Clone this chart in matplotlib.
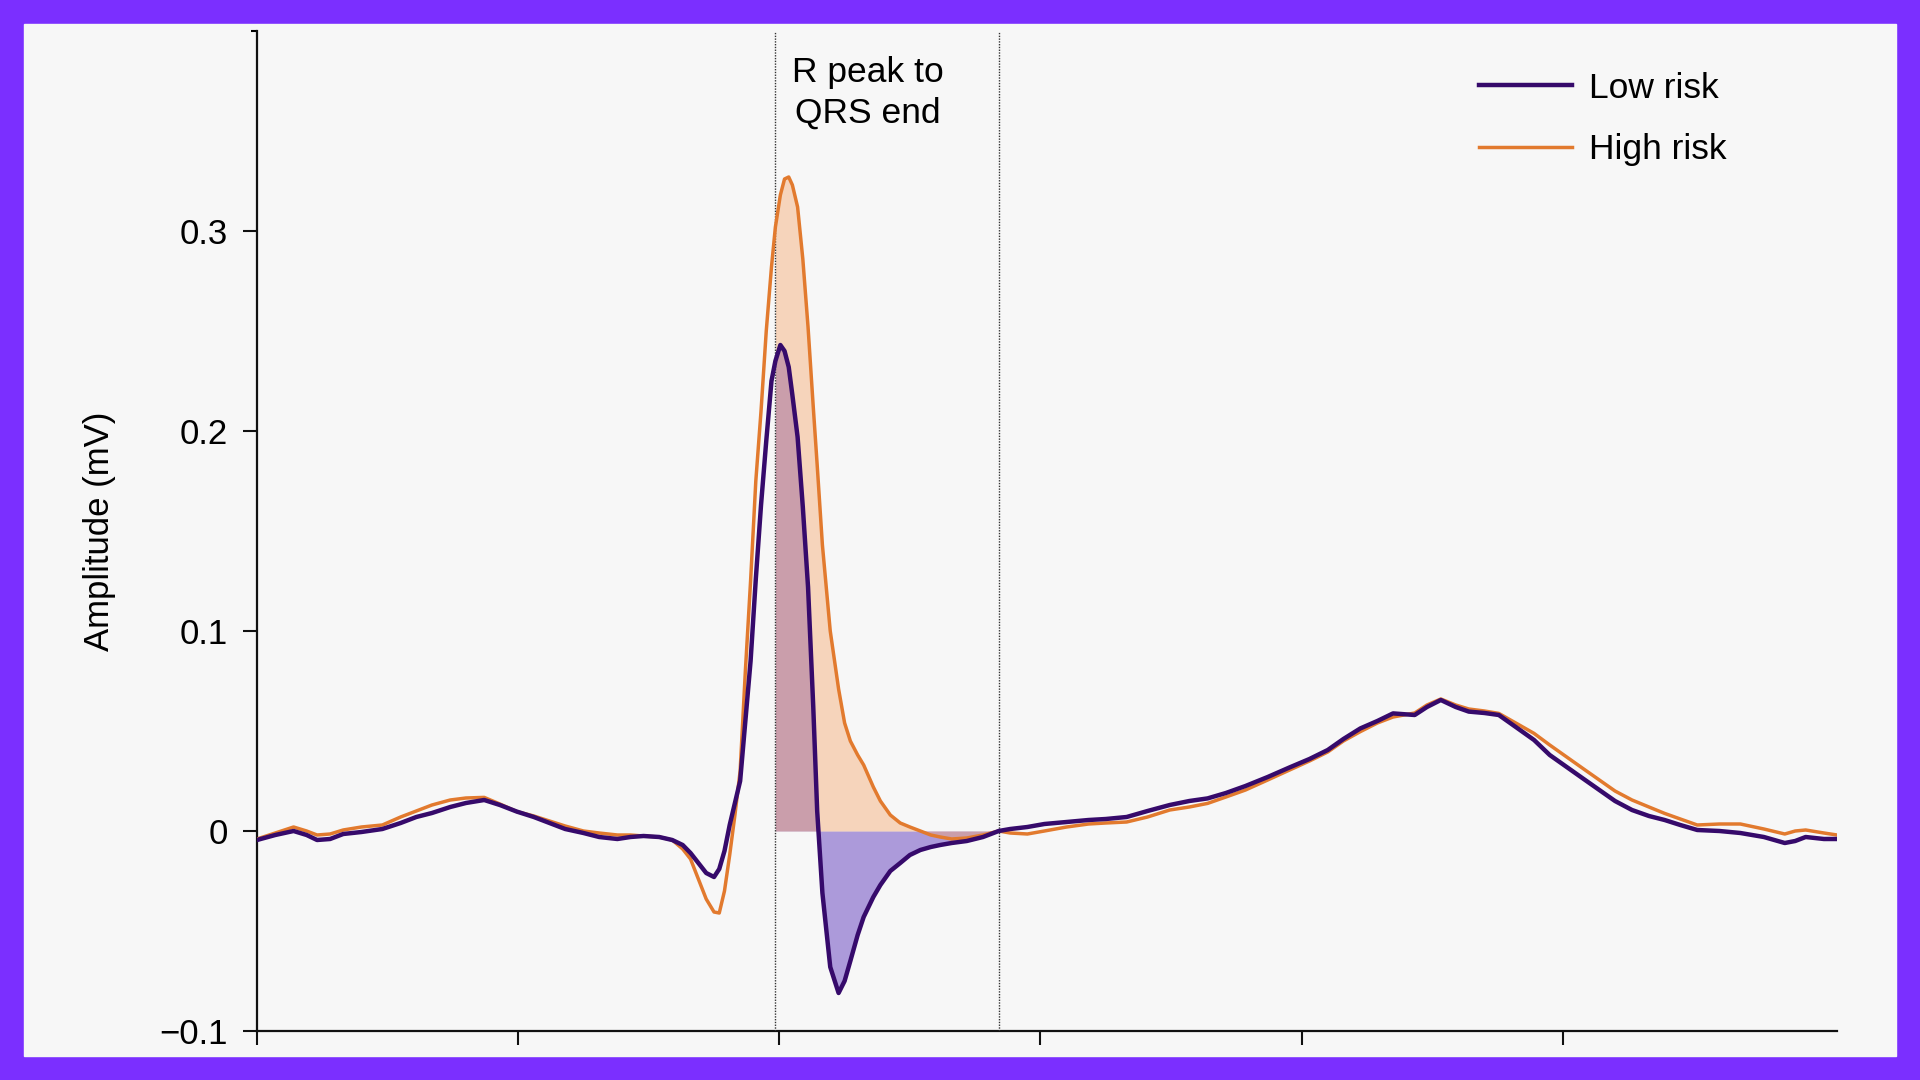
import numpy as np
import matplotlib.pyplot as plt
from matplotlib.patches import Rectangle
from matplotlib.ticker import FixedLocator

plt.rcParams['font.family'] = ['Liberation Sans', 'DejaVu Sans']

# 时间轴（样本点）
t = [0, 7, 14, 19, 23, 28, 33, 40, 48, 55, 61, 67, 74, 80, 87, 93, 99.5, 106, 112, 118,
     125, 131, 138, 143, 148, 154, 159, 163, 166, 169, 172, 175, 177, 179, 181, 183, 185,
     187, 189, 191, 193, 195, 197, 198.5, 200.4, 202, 203.6, 205, 207, 209, 211, 213,
     214.5, 216.5, 219.5, 222.7, 225, 227.2, 230, 232.3, 236, 238.7, 242.5, 246.3, 250,
     254, 258, 261.6, 266, 271.8, 278, 284, 288.4, 295, 301.5, 310, 318.4, 325, 333, 341,
     349.5, 357, 364, 371, 378.5, 387, 395.4, 403, 410, 416, 422.5, 429, 435, 443.3, 448,
     453.3, 459, 464, 470, 475.5, 482, 489, 495, 501.5, 508, 514, 520, 526.5, 533, 539,
     545, 551.5, 560, 568, 577, 585, 589, 593, 600, 605]

# 低风险平均波形 (mV)
low_risk = [-0.0045, -0.002, 0.000, -0.002, -0.0045, -0.004, -0.0015, -0.0005, 0.001, 0.004,
            0.007, 0.009, 0.012, 0.014, 0.0155, 0.013, 0.0097, 0.007, 0.004, 0.001,
            -0.001, -0.003, -0.004, -0.003, -0.0025, -0.003, -0.0045, -0.007, -0.011, -0.016,
            -0.021, -0.023, -0.019, -0.010, 0.003, 0.014, 0.025,
            0.055, 0.085, 0.126, 0.163, 0.195, 0.225, 0.235, 0.243, 0.240, 0.232, 0.218, 0.197,
            0.162, 0.122, 0.062, 0.010, -0.031, -0.068, -0.081, -0.075, -0.065, -0.052, -0.043,
            -0.033, -0.027, -0.020, -0.016, -0.012, -0.0095, -0.008, -0.007, -0.006, -0.005,
            -0.003, 0.0, 0.001, 0.002, 0.0035, 0.0045, 0.0055, 0.006, 0.007, 0.010,
            0.013, 0.015, 0.0163, 0.019, 0.0225, 0.027, 0.0318, 0.036, 0.0405, 0.046, 0.0513,
            0.055, 0.0588, 0.058, 0.062, 0.0655, 0.062, 0.0597, 0.059, 0.058, 0.052, 0.0455,
            0.038, 0.032, 0.026, 0.0205, 0.015, 0.0105, 0.0075, 0.0055, 0.003, 0.0005,
            0.000, -0.001, -0.003, -0.006, -0.005, -0.003, -0.004, -0.004]

# 高风险平均波形 (mV)
high_risk = [-0.004, -0.001, 0.002, 0.000, -0.002, -0.0015, 0.0005, 0.002, 0.003, 0.007,
             0.010, 0.013, 0.0155, 0.0165, 0.0168, 0.0135, 0.0097, 0.0075, 0.005, 0.0025,
             0.000, -0.001, -0.002, -0.002, -0.0025, -0.003, -0.0045, -0.009, -0.014, -0.024,
             -0.034, -0.0405, -0.041, -0.030, -0.012, 0.008, 0.030,
             0.080, 0.125, 0.175, 0.210, 0.250, 0.282, 0.302, 0.318, 0.326, 0.327, 0.323, 0.312,
             0.286, 0.252, 0.212, 0.183, 0.143, 0.100, 0.071, 0.054, 0.045, 0.038, 0.033,
             0.022, 0.015, 0.008, 0.004, 0.002, 0.000, -0.002, -0.003, -0.004, -0.0035,
             -0.002, 0.0, -0.001, -0.0015, 0.000, 0.002, 0.0035, 0.004, 0.0045, 0.007,
             0.0105, 0.012, 0.0138, 0.017, 0.0205, 0.0255, 0.0305, 0.035, 0.0395, 0.045, 0.0497,
             0.054, 0.057, 0.059, 0.063, 0.066, 0.063, 0.061, 0.060, 0.0588, 0.054, 0.0488,
             0.043, 0.037, 0.031, 0.0255, 0.020, 0.0155, 0.012, 0.0088, 0.006, 0.003,
             0.0035, 0.0035, 0.001, -0.0015, 0.000, 0.0005, -0.001, -0.002]

# R 波峰到 QRS 结束
qrs_start = 198.5
qrs_end = 284
x_ticks = [0, 100, 200, 300, 400, 500]
y_ticks = [-0.1, 0, 0.1, 0.2, 0.3]
y_labels = ['\u22120.1', '0', '0.1', '0.2', '0.3']

t = np.array(t)
low_risk = np.array(low_risk)
high_risk = np.array(high_risk)

c_low = '#360a6b'
c_high = '#e27a2e'

fig = plt.figure(figsize=(19.2, 10.8), dpi=100, facecolor='#7b2fff')
panel = Rectangle((24 / 1920, 24 / 1080), 1872 / 1920, 1032 / 1080,
                  transform=fig.transFigure, color='#f7f7f7', zorder=-10)
fig.patches.append(panel)

ax = fig.add_axes([257 / 1920, 49 / 1080, 1580 / 1920, 1000 / 1080])
ax.set_facecolor('none')
ax.set_zorder(5)

# 阴影区域
win = (t >= qrs_start) & (t <= qrs_end)
ax.fill_between(t, 0, low_risk, where=win, color='#7a5cc8', alpha=0.6, lw=0, zorder=1)
ax.fill_between(t, 0, high_risk, where=win, color='#f5a46a', alpha=0.42, lw=0, zorder=2)

ax.plot(t, high_risk, color=c_high, lw=2.5, label='High risk', zorder=4,
        solid_joinstyle='round')
ax.plot(t, low_risk, color=c_low, lw=3.2, label='Low risk', zorder=5,
        solid_joinstyle='round')

for xv in [qrs_start, qrs_end]:
    ax.axvline(xv, color='#333333', lw=1.0, ls=(0, (1, 1)), zorder=3)

ax.text(234, 0.369, 'R peak to\nQRS end', ha='center', va='center', fontsize=25.5,
        linespacing=1.32)

ax.set_xlim(0, 605)
ax.set_ylim(-0.1, 0.4)
ax.set_xticks(x_ticks)
ax.set_xticklabels([])
ax.set_yticks(y_ticks)
ax.set_yticklabels(y_labels)
ax.yaxis.set_minor_locator(FixedLocator([0.4]))
ax.tick_params(axis='y', which='minor', length=4, width=1.5)
ax.tick_params(axis='both', which='major', length=10, width=1.5, labelsize=25, pad=11,
               direction='out', color='#111111')
for s in ['top', 'right']:
    ax.spines[s].set_visible(False)
for s in ['left', 'bottom']:
    ax.spines[s].set_linewidth(1.6)
    ax.spines[s].set_color('#111111')

ax.set_ylabel('Amplitude (mV)', fontsize=25)
ax.yaxis.set_label_coords(-0.089, 0.5)

h, l = ax.get_legend_handles_labels()
ax.legend([h[1], h[0]], [l[1], l[0]], loc='upper left', bbox_to_anchor=(0.7625, 0.977),
          frameon=False, fontsize=25.5, handlelength=2.6, handletextpad=0.5,
          labelspacing=0.8, borderpad=0)

fig.savefig('out.png', dpi=100, facecolor=fig.get_facecolor())
